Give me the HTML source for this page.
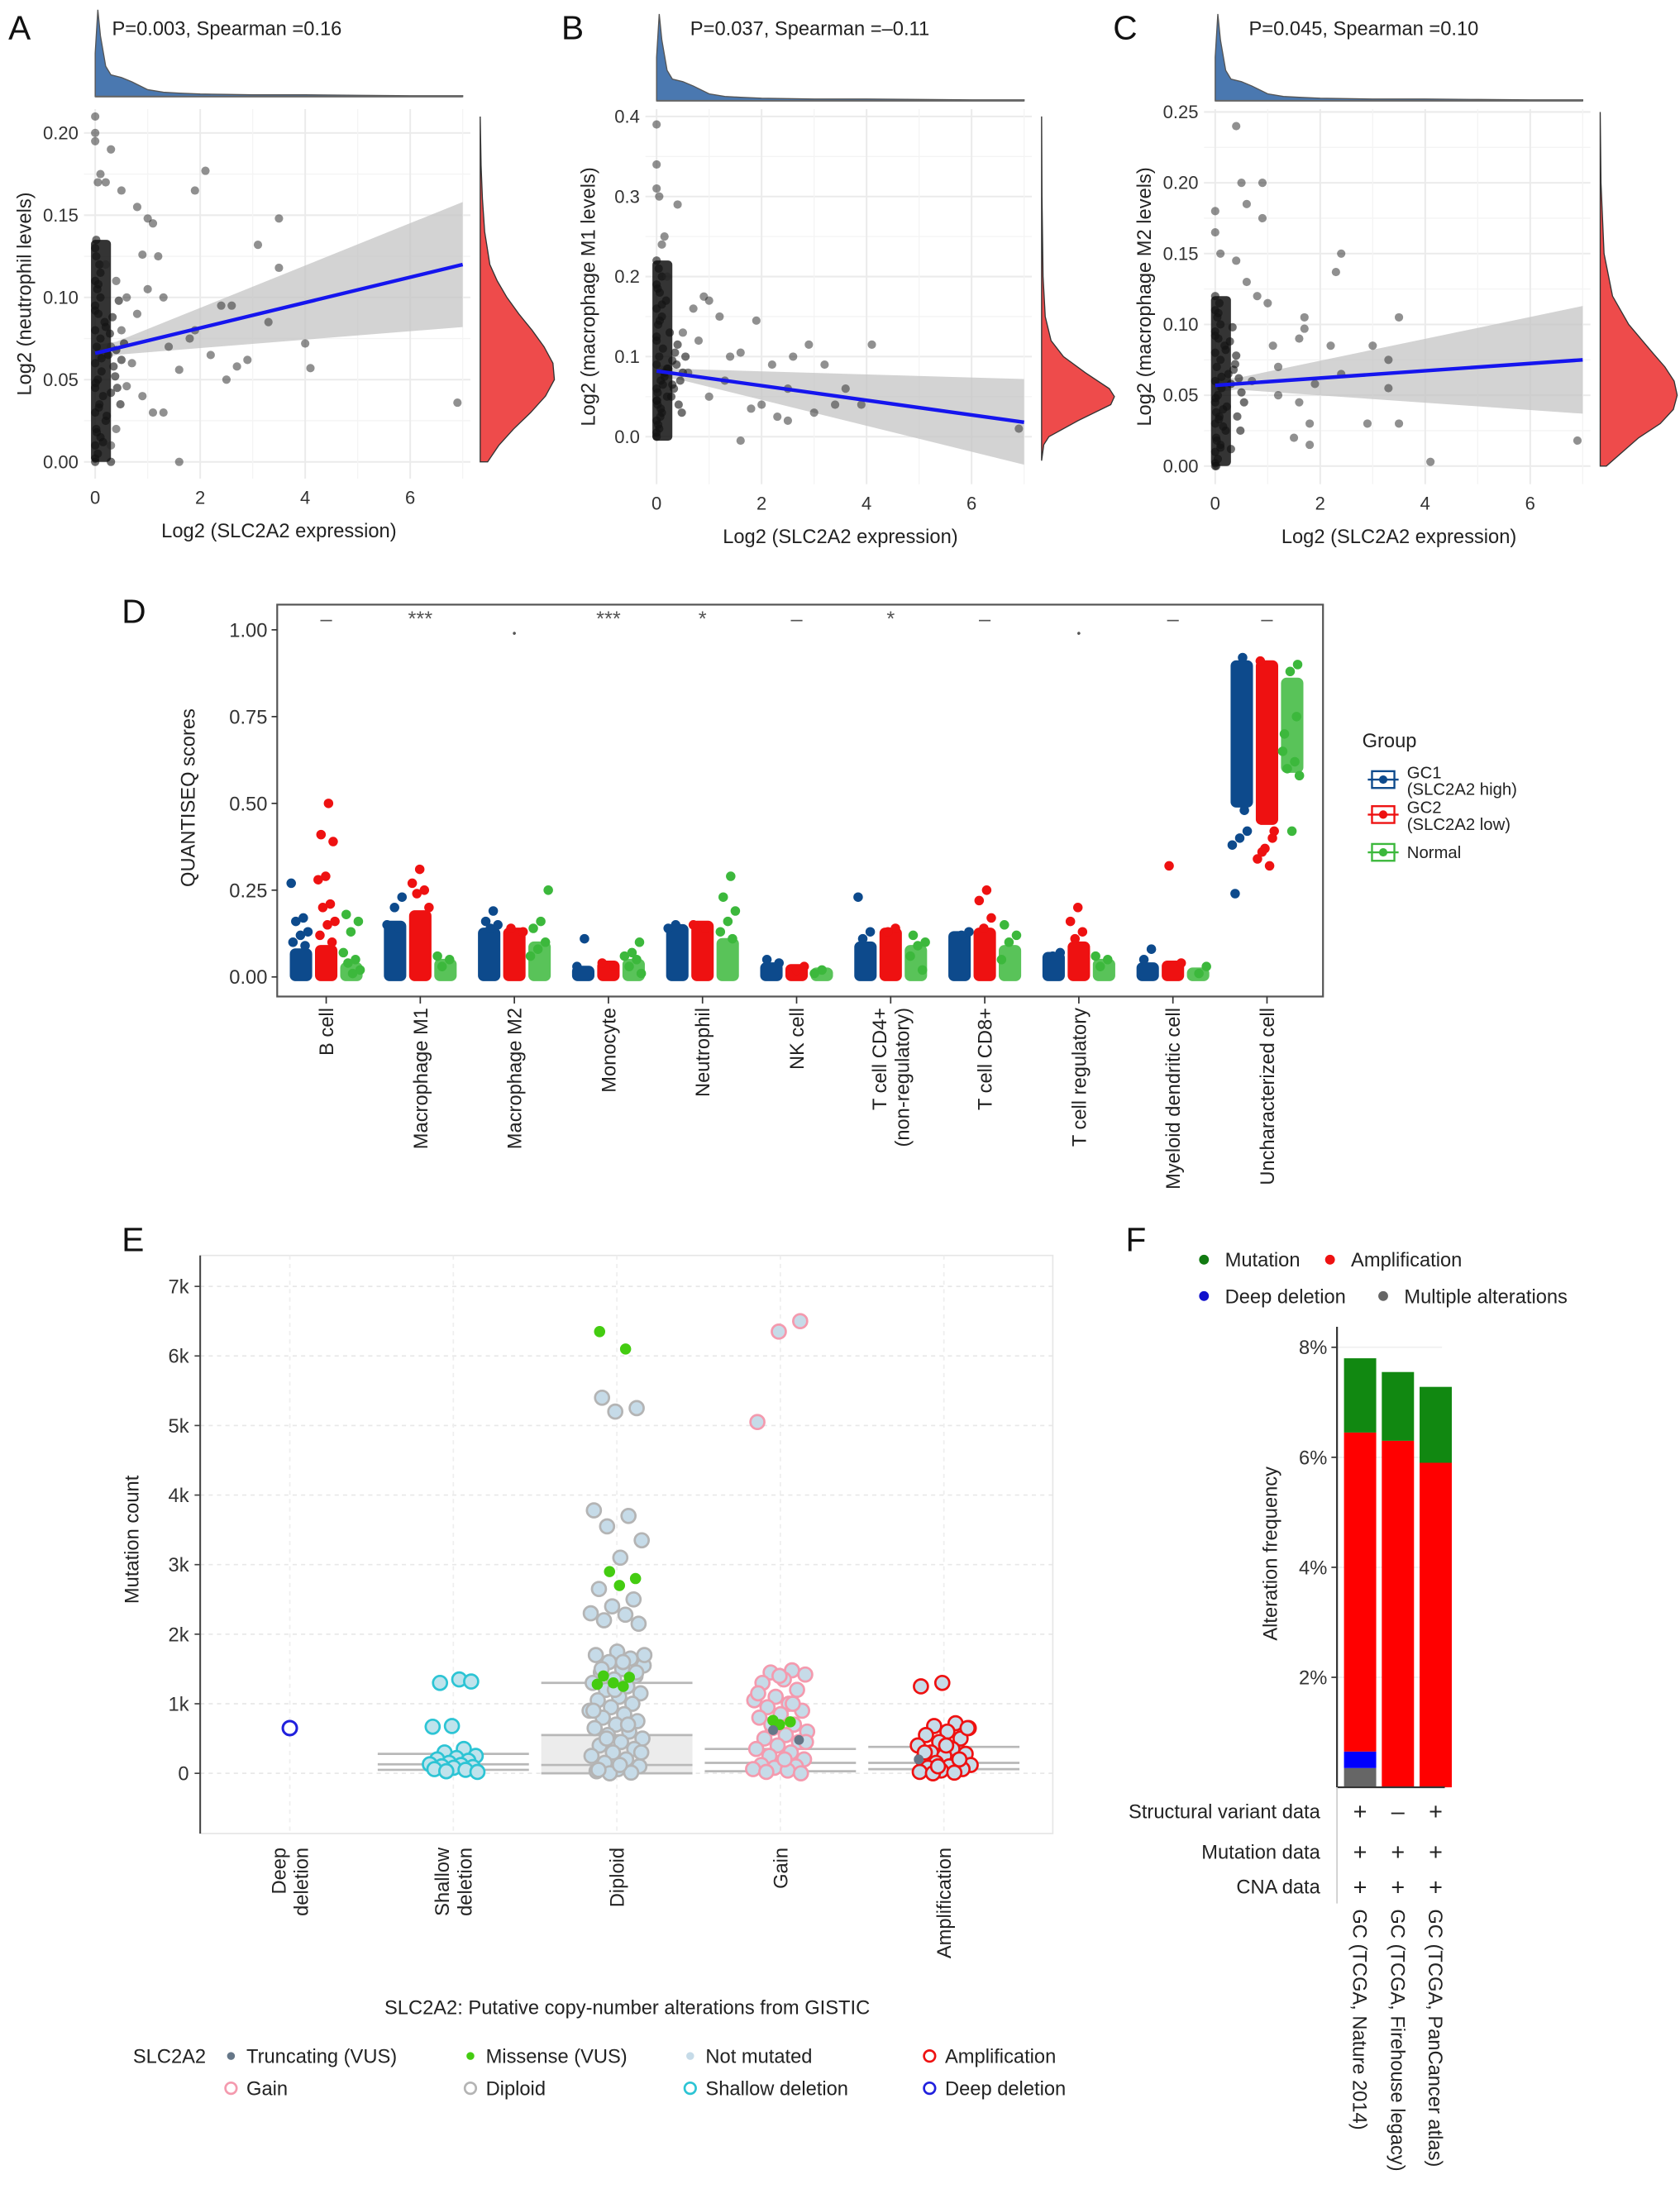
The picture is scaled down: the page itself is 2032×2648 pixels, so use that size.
<!DOCTYPE html>
<html><head><meta charset="utf-8">
<style>
html,body{margin:0;padding:0;background:#fff;}
svg{display:block;font-family:"Liberation Sans",Arial,sans-serif;}
</style></head>
<body>
<svg id="fig" width="2032" height="2648" viewBox="0 0 1200 1564" preserveAspectRatio="none" xmlns="http://www.w3.org/2000/svg">
</svg>
<script>
// ---------- DATA ----------
const stripeX = [0,0.05,0,0.1,0.02,0.2,0,0.08,0.15,0,0.05,0.12,0,0.25,0.03,0.1,0,0.18,0.06,0,0.1,0.04,0,0.08,0,0.02,0.3,0.15,0.22,0.3,0.35,0.4,0.28,0.33,0.45,0.5,0.38,0.55,0.42,0.48,0,0.03,0.07,0.01,0.12,0.2,0,0.06,0.1,0.02];
const stripeYA = [0,0.005,0.01,0.015,0.02,0.025,0.03,0.035,0.04,0.045,0.05,0.055,0.06,0.065,0.07,0.075,0.08,0.085,0.09,0.095,0.1,0.105,0.11,0.12,0.13,0.135,0.0,0.012,0.028,0.042,0.058,0.068,0.078,0.088,0.098,0.062,0.052,0.072,0.045,0.035,0.002,0.018,0.033,0.048,0.063,0.082,0.092,0.108,0.115,0.125];
const stripeYB = [0,0.01,0.02,0.03,0.04,0.05,0.06,0.07,0.08,0.09,0.1,0.11,0.12,0.13,0.14,0.15,0.16,0.17,0.18,0.19,0.2,0.21,0.22,0.035,0.045,0.055,0.065,0.075,0.085,0.095,0.105,0.115,0.05,0.06,0.07,0.08,0.09,0.1,0.04,0.03,0.005,0.015,0.025,0.045,0.065,0.085,0.125,0.145,0.165,0.185];
const stripeYC = [0,0.005,0.01,0.015,0.02,0.025,0.03,0.035,0.04,0.045,0.05,0.055,0.06,0.065,0.07,0.075,0.08,0.085,0.09,0.095,0.1,0.105,0.11,0.115,0.12,0.0,0.012,0.028,0.042,0.058,0.068,0.078,0.088,0.098,0.062,0.052,0.072,0.045,0.035,0.025,0.002,0.018,0.033,0.048,0.063,0.082,0.092,0.108,0.013,0.038];
// dense core of the x≈0 column [low, high] in y units
const coreA = [0,0.135];
const coreB = [-0.005,0.22];
const coreC = [0,0.12];
const outXA = [0,0,0,0.3,0.1,0.05,0.2,0.5,2.1,1.9,0.8,1.0,1.1,3.5,3.1,0.9,1.2,3.5,2.4,2.6,1.0,1.3,1.9,3.3,4.0,4.1,2.9,2.7,2.5,1.6,2.2,0.6,1.1,1.3,0.4,6.9,1.6,0.3,0.7,0.5,0.8,1.4,0.2,0.4,0.6,0.3,0.9,1.8];
const outYA = [0.21,0.2,0.195,0.19,0.175,0.17,0.17,0.165,0.177,0.165,0.155,0.148,0.145,0.148,0.132,0.126,0.125,0.118,0.095,0.095,0.105,0.1,0.08,0.085,0.072,0.057,0.062,0.058,0.05,0.056,0.065,0.046,0.03,0.03,0.02,0.036,0.0,0.01,0.06,0.08,0.09,0.07,0.12,0.11,0.1,0.07,0.04,0.075];
const outXB = [0,0,0,0.05,0.4,0.15,0.1,0.2,0.9,1.0,0.7,1.2,1.9,2.9,4.1,2.6,1.6,3.2,2.2,1.4,0.8,0.5,3.6,2.5,1.8,2.0,2.3,2.5,3.0,3.4,3.9,1.6,6.9,1.3,1.0,0.6];
const outYB = [0.39,0.34,0.31,0.3,0.29,0.25,0.24,0.2,0.175,0.17,0.16,0.15,0.145,0.115,0.115,0.1,0.105,0.09,0.09,0.1,0.12,0.13,0.06,0.06,0.035,0.04,0.025,0.02,0.03,0.04,0.04,-0.005,0.01,0.07,0.05,0.08];
const outXC = [0.4,0.5,0.9,0.6,0.9,0,0,0.1,0.4,2.4,2.3,0.6,0.8,1.0,1.7,1.7,3.5,1.6,2.2,3.0,3.3,2.4,1.9,1.6,3.3,1.2,1.8,2.9,3.5,1.5,1.8,4.1,6.9,1.2,1.1,0.7];
const outYC = [0.24,0.2,0.2,0.185,0.175,0.18,0.165,0.15,0.145,0.15,0.137,0.13,0.12,0.115,0.105,0.097,0.105,0.09,0.085,0.085,0.075,0.065,0.058,0.045,0.055,0.05,0.03,0.03,0.03,0.02,0.015,0.003,0.018,0.07,0.085,0.06];
const fitA = [0.066,0.12], ciA7 = [0.082,0.158], ciA0 = [0.061,0.071];
const fitB = [0.082,0.018], ciB7 = [-0.035,0.072], ciB0 = [0.074,0.09];
const fitC = [0.057,0.075], ciC7 = [0.037,0.113], ciC0 = [0.052,0.062];
const topGrid = [0,0.05,0.1,0.2,0.3,0.5,0.7,1,1.3,1.6,2,2.5,3,4,5,6,7];
const topDens = [0.5,1,0.7,0.35,0.25,0.22,0.17,0.08,0.05,0.04,0.03,0.025,0.02,0.02,0.015,0.01,0.01];
const rGridA = [0,0.01,0.02,0.03,0.04,0.05,0.06,0.07,0.08,0.09,0.1,0.11,0.12,0.14,0.16,0.18,0.21];
const rDensA = [0.1,0.25,0.45,0.68,0.88,1,0.98,0.86,0.7,0.52,0.36,0.23,0.13,0.06,0.03,0.012,0];
const rGridB = [-0.03,-0.01,0,0.02,0.04,0.05,0.06,0.08,0.1,0.12,0.15,0.2,0.3,0.4];
const rDensB = [0,0.03,0.1,0.5,0.95,1,0.93,0.6,0.3,0.13,0.05,0.02,0.005,0];
const rGridC = [0,0.02,0.03,0.04,0.05,0.06,0.07,0.08,0.1,0.12,0.15,0.2,0.25];
const rDensC = [0.08,0.5,0.78,0.95,1,0.96,0.84,0.68,0.37,0.16,0.05,0.01,0];

// Panel D
const dCats = ["B cell","Macrophage M1","Macrophage M2","Monocyte","Neutrophil","NK cell","T cell CD4+|(non-regulatory)","T cell CD8+","T cell regulatory","Myeloid dendritic cell","Uncharacterized cell"];
const dSig = ["–","***","·","***","*","–","*","–","·","–","–"];
const dBulkLo = [[0,0,0,0,0,0,0,0,0,0,0.5],[0,0,0,0,0,0,0,0,0,0,0.45],[0,0,0,0,0,0,0,0,0,0,0.6]];
const dBulkBlue = [0.07,0.15,0.13,0.02,0.14,0.03,0.09,0.12,0.06,0.03,0.9];
const dBulkRed = [0.08,0.18,0.13,0.035,0.15,0.025,0.13,0.13,0.09,0.035,0.9];
const dBulkGreen = [0.03,0.04,0.09,0.04,0.1,0.015,0.08,0.08,0.04,0.015,0.85];
const dBlue = [[0.27,0.17,0.16,0.13,0.12,0.1,0.09],[0.23,0.2,0.15,0.14],[0.19,0.16,0.15,0.14],[0.11,0.03],[0.15,0.14],[0.05,0.04],[0.23,0.13,0.11],[0.13,0.12],[0.07,0.06],[0.08,0.05],[0.92,0.24,0.42,0.4,0.38,0.48]];
const dRed = [[0.5,0.41,0.39,0.29,0.28,0.21,0.2,0.16,0.15,0.12,0.1],[0.31,0.27,0.25,0.24,0.2],[0.14,0.13],[0.04,0.03],[0.15,0.14],[0.03,0.02],[0.14,0.13],[0.25,0.22,0.17,0.14],[0.2,0.16,0.13,0.11],[0.32,0.04],[0.91,0.4,0.37,0.34,0.32,0.36,0.42]];
const dGreen = [[0.18,0.16,0.13,0.07,0.05,0.04,0.02,0.01],[0.06,0.05,0.03],[0.25,0.16,0.14,0.1,0.08,0.06],[0.1,0.07,0.06,0.05,0.03,0.01],[0.29,0.23,0.19,0.16,0.13,0.11],[0.02,0.01],[0.12,0.1,0.09,0.06,0.02],[0.15,0.12,0.1,0.05],[0.06,0.05,0.03],[0.03,0.01],[0.9,0.88,0.65,0.62,0.6,0.58,0.42,0.7,0.75]];

// Panel E
const eCats = ["Deep|deletion","Shallow|deletion","Diploid","Gain","Amplification"];
const eDeep = [650];
const eShallow = [1350,1300,1320,680,670,350,300,250,220,200,180,150,130,120,100,90,80,60,50,30,20];
const eDiploid = [5400,5250,5200,3780,3700,3550,3350,3100,2650,2500,2400,2300,2280,2200,2150,1750,1700,1650,1600,1550,1500,1450,1400,1350,1300,1250,1200,1150,1100,1050,1000,950,900,850,800,750,700,650,600,550,500,450,400,350,300,250,200,150,100,60,30,10,0,1700,1600,1500,1450,1200,900,700,500,300,120,50];
const eDiploidMis = [6350,6100,2900,2800,2700,1400,1380,1300,1280,1250];
const eGain = [6500,6350,5050,1480,1450,1420,1350,1300,1200,1100,1050,1000,950,900,850,800,700,650,600,550,500,450,400,350,300,250,200,150,120,100,80,60,40,20,0,1400,1150,1000,700,450,200];
const eGainMis = [760,740,700];
const eGainTrunc = [620,480];
const eAmp = [1300,1250,720,680,650,600,550,500,450,400,350,300,280,250,200,180,150,120,100,80,60,40,20,10,0,650,400,300,200,100];
const eAmpTrunc = [200];
const eBoxShallow = [50,130,280];
const eBoxDiploid = [0,120,550,1300];
const eBoxGain = [30,150,350];
const eBoxAmp = [60,150,380];
const eTicks = [0,1000,2000,3000,4000,5000,6000,7000];
const eTickLabels = ["0","1k","2k","3k","4k","5k","6k","7k"];

// Panel F
const fStudies = ["GC (TCGA, Nature 2014)","GC (TCGA, Firehouse legacy)","GC (TCGA, PanCancer atlas)"];
const fMulti = [0.35,0,0];
const fDeep = [0.3,0,0];
const fAmp = [5.8,6.3,5.9];
const fMut = [1.35,1.25,1.38];
const fSV = ["+","–","+"];
const fMutData = ["+","+","+"];
const fCNA = ["+","+","+"];

// ---------- HELPERS ----------
const NS = "http://www.w3.org/2000/svg";
const svg = document.getElementById('fig');
function mk(tag, attrs, parent, text){
  const e = document.createElementNS(NS, tag);
  for (const k in attrs) e.setAttribute(k, attrs[k]);
  if (text !== undefined) e.textContent = text;
  (parent || svg).appendChild(e);
  return e;
}
function grp(name){ const g = mk('g', {});   return g; }
function txt(parent, x, y, s, size, anchor, extra){
  const a = Object.assign({x:x, y:y, 'font-size':size, 'text-anchor':anchor||'start', fill:'#222'}, extra||{});
  return mk('text', a, parent, s);
}
function jit(i){ return ((i*0.6180339887)%1) - 0.5; }

// ---------- SCATTER PANELS A,B,C ----------
function scatterPanel(cfg){
  const g = grp(cfg.name);
  const sx = v => cfg.x0 + v*cfg.pxPerX;
  const sy = v => cfg.y0 - v*cfg.pxPerY;
  const L = txt(g, cfg.labX, 28, cfg.label, 24, 'start', {fill:'#111'});
   
  const S = txt(g, cfg.statX, 25, cfg.stat, 14, 'start', {fill:'#222'});
   
  const pg = mk('g', {}, g);  
  for (let k=0;k<cfg.yTicks.length;k++){
    mk('line',{x1:cfg.left,x2:cfg.right,y1:sy(cfg.yTicks[k]),y2:sy(cfg.yTicks[k]),stroke:'#ebebeb','stroke-width':1.2},pg);
    if(k<cfg.yTicks.length-1){const m=(cfg.yTicks[k]+cfg.yTicks[k+1])/2;mk('line',{x1:cfg.left,x2:cfg.right,y1:sy(m),y2:sy(m),stroke:'#f4f4f4','stroke-width':0.8},pg);}
  }
  [0,1,2,3,4,5,6,7].forEach(v=>{ mk('line',{x1:sx(v),x2:sx(v),y1:cfg.top,y2:cfg.bottom,stroke: v%2==0?'#ebebeb':'#f4f4f4','stroke-width':v%2==0?1.2:0.8},pg); });
  const tg = mk('g',{},g);  
  let d = `M${sx(0)},${cfg.topBase}`;
  topGrid.forEach((v,i)=>{ d += ` L${sx(v)},${cfg.topBase - topDens[i]*cfg.topH}`; });
  d += ` L${sx(7)},${cfg.topBase} Z`;
  mk('path',{d:d,fill:'#4a78b0',stroke:'#555','stroke-width':0.8},tg);
  mk('line',{x1:sx(0),x2:sx(7),y1:cfg.topBase,y2:cfg.topBase,stroke:'#666','stroke-width':1.2},tg);
  const rg = mk('g',{},g);  
  let d2 = `M${cfg.rBase},${sy(cfg.rGrid[0])}`;
  cfg.rGrid.forEach((v,i)=>{ d2 += ` L${cfg.rBase + cfg.rDens[i]*cfg.rW},${sy(v)}`; });
  d2 += ` L${cfg.rBase},${sy(cfg.rGrid[cfg.rGrid.length-1])} Z`;
  mk('path',{d:d2,fill:'#ee4b4b',stroke:'#333','stroke-width':0.8},rg);
  const cg = mk('g',{},g);  
  const xm = 0.4, ym = cfg.fit[0] + (cfg.fit[1]-cfg.fit[0])*xm/7;
  const pts = [[0,cfg.ci0[1]],[xm,ym+(cfg.ci0[1]-cfg.ci0[0])*0.4],[7,cfg.ci7[1]],[7,cfg.ci7[0]],[xm,ym-(cfg.ci0[1]-cfg.ci0[0])*0.4],[0,cfg.ci0[0]]];
  mk('polygon',{points:pts.map(p=>sx(p[0])+','+sy(p[1])).join(' '),fill:'#c4c4c4','fill-opacity':0.75},cg);
  const ptg = mk('g',{},g);  
  mk('rect',{x:sx(0)-3,y:sy(cfg.core[1]),width:sx(0.22)-sx(0)+6,height:sy(cfg.core[0])-sy(cfg.core[1]),rx:3,fill:'#111','fill-opacity':0.85},ptg);
  cfg.stripeY.forEach((v,i)=>{ mk('circle',{cx:sx(stripeX[i%stripeX.length]),cy:sy(v),r:3,fill:'#111','fill-opacity':0.6},ptg); });
  cfg.outX.forEach((v,i)=>{ mk('circle',{cx:sx(v),cy:sy(cfg.outY[i]),r:3,fill:'#222','fill-opacity':0.5},ptg); });
  const fl = mk('line',{x1:sx(0),y1:sy(cfg.fit[0]),x2:sx(7),y2:sy(cfg.fit[1]),stroke:'#1515ee','stroke-width':2.6},g);
   
  const ya = mk('g',{},g);  
  cfg.yTicks.forEach((v,k)=>{ txt(ya, cfg.left-4, sy(v)+4.5, cfg.yLabels[k], 13, 'end', {fill:'#333'}); });
  const xa = mk('g',{},g);  
  [0,2,4,6].forEach(v=>{ txt(xa, sx(v), cfg.bottom+18, String(v), 13, 'middle', {fill:'#333'}); });
  const xt = txt(g, (sx(0)+sx(7))/2, cfg.bottom+42, 'Log2 (SLC2A2 expression)', 14, 'middle', {fill:'#222'});
   
  const yt = txt(g, 0, 0, cfg.yTitle, 14, 'middle', {fill:'#222', transform:`translate(${cfg.yTitleX},${(cfg.top+cfg.bottom)/2}) rotate(-90)`});
   
}

scatterPanel({name:'panel-a', label:'A', labX:6, stat:'P=0.003, Spearman =0.16', statX:80,
  x0:68, pxPerX:37.5, y0:330, pxPerY:1175, left:60, right:336, top:78, bottom:342,
  topBase:69, topH:62, rBase:343, rW:53, rGrid:rGridA, rDens:rDensA,
  yTicks:[0,0.05,0.1,0.15,0.2], yLabels:["0.00","0.05","0.10","0.15","0.20"],
  stripeY:stripeYA, core:coreA, outX:outXA, outY:outYA, fit:fitA, ci7:ciA7, ci0:ciA0,
  yTitle:'Log2 (neutrophil levels)', yTitleX:22});
scatterPanel({name:'panel-b', label:'B', labX:401, stat:'P=0.037, Spearman =–0.11', statX:493,
  x0:469, pxPerX:37.5, y0:312, pxPerY:572, left:461, right:737, top:78, bottom:346,
  topBase:72, topH:62, rBase:744, rW:52, rGrid:rGridB, rDens:rDensB,
  yTicks:[0,0.1,0.2,0.3,0.4], yLabels:["0.0","0.1","0.2","0.3","0.4"],
  stripeY:stripeYB, core:coreB, outX:outXB, outY:outYB, fit:fitB, ci7:ciB7, ci0:ciB0,
  yTitle:'Log2 (macrophage M1 levels)', yTitleX:425});
scatterPanel({name:'panel-c', label:'C', labX:795, stat:'P=0.045, Spearman =0.10', statX:892,
  x0:868, pxPerX:37.5, y0:333, pxPerY:1012, left:860, right:1136, top:78, bottom:346,
  topBase:72, topH:62, rBase:1143, rW:55, rGrid:rGridC, rDens:rDensC,
  yTicks:[0,0.05,0.1,0.15,0.2,0.25], yLabels:["0.00","0.05","0.10","0.15","0.20","0.25"],
  stripeY:stripeYC, core:coreC, outX:outXC, outY:outYC, fit:fitC, ci7:ciC7, ci0:ciC0,
  yTitle:'Log2 (macrophage M2 levels)', yTitleX:822});

// ---------- PANEL D ----------
(function(){
  const g = grp('panel-d');
  const L = txt(g, 87, 445, 'D', 24, 'start', {fill:'#111'});  
  const left=198,right=945,top=432,bottom=712;
  const sy = v => 698 - v*248;
  const cx = i => 233 + i*67.2;
  const fr = mk('rect',{x:left,y:top,width:right-left,height:bottom-top,fill:'none',stroke:'#555','stroke-width':1.3},g);
   
  const ya = mk('g',{},g);  
  [0,0.25,0.5,0.75,1].forEach(v=>{ mk('line',{x1:left-4,x2:left,y1:sy(v),y2:sy(v),stroke:'#333'},ya); txt(ya,left-7,sy(v)+5,v.toFixed(2),14,'end',{fill:'#333'}); });
  const yt = txt(g,0,0,'QUANTISEQ scores',14,'middle',{transform:'translate(139,570) rotate(-90)'});  
  const cols = ['#0d4a8c','#ee1111','#3cb83c'];
  const offs = [-18,0,18];
  const bulks = [dBulkBlue,dBulkRed,dBulkGreen];
  const vals = [dBlue,dRed,dGreen];
  dCats.forEach((c,i)=>{
    const cg = mk('g',{},g);  
    for(let s=0;s<3;s++){
      const x = cx(i)+offs[s];
      const lo = dBulkLo[s][i], hi = bulks[s][i];
      mk('rect',{x:x-8,y:sy(hi)-3,width:16,height:sy(lo)-sy(hi)+6,rx:4,fill:cols[s],'fill-opacity': s==2?0.85:1},cg);
      vals[s][i].forEach((v,k)=>{ mk('circle',{cx:x+jit(k+i*3+s)*14,cy:sy(v),r:3.4,fill:cols[s]},cg); });
    }
    mk('line',{x1:cx(i),x2:cx(i),y1:bottom,y2:bottom+5,stroke:'#333'},cg);
    const parts = c.split('|');
    if(parts.length==1){ txt(cg,0,0,c,14,'end',{transform:`translate(${cx(i)+5},${bottom+8}) rotate(-90)`}); }
    else { txt(cg,0,0,parts[0],14,'end',{transform:`translate(${cx(i)-3},${bottom+8}) rotate(-90)`}); txt(cg,0,0,parts[1],14,'end',{transform:`translate(${cx(i)+13},${bottom+8}) rotate(-90)`}); }
    const sg = dSig[i];
    const st = txt(cg,cx(i), sg=='·'?455:447, sg=='·'?'•':sg, sg=='·'?8:15,'middle',{fill:'#555'});
     
  });
  const lg = mk('g',{},g);  
  txt(lg,973,534,'Group',14,'start',{fill:'#222'});
  const entries = [['GC1','(SLC2A2 high)',cols[0],557],['GC2','(SLC2A2 low)',cols[1],582],['Normal','',cols[2],609]];
  entries.forEach(e=>{
    const eg = mk('g',{},lg);  
    const yy = e[3];
    mk('line',{x1:977,x2:999,y1:yy,y2:yy,stroke:e[2],'stroke-width':1.4},eg);
    mk('rect',{x:980,y:yy-6,width:16,height:12,fill:'#fff',stroke:e[2],'stroke-width':1.4},eg);
    mk('line',{x1:980,x2:996,y1:yy,y2:yy,stroke:e[2],'stroke-width':1.4},eg);
    mk('circle',{cx:988,cy:yy,r:3,fill:e[2]},eg);
    if(e[1]){ txt(eg,1005,yy-1,e[0],12,'start'); txt(eg,1005,yy+11,e[1],12,'start'); }
    else txt(eg,1005,yy+4,e[0],12,'start');
  });
})();

// ---------- PANEL E ----------
(function(){
  const g = grp('panel-e');
  const L = txt(g, 87, 894, 'E', 24, 'start', {fill:'#111'});  
  const left=143,right=752,top=897,bottom=1310;
  const sy = v => 1267 - v*0.0497;
  const cx = i => 207 + i*116.8;
  mk('rect',{x:left,y:top,width:right-left,height:bottom-top,fill:'none',stroke:'#e6e6e6','stroke-width':1},g);
  const gg = mk('g',{},g);  
  eTicks.forEach(v=>{ mk('line',{x1:left,x2:right,y1:sy(v),y2:sy(v),stroke:'#e8e8e8','stroke-dasharray':'3,3'},gg); });
  eCats.forEach((c,i)=>{ mk('line',{x1:cx(i),x2:cx(i),y1:top,y2:bottom,stroke:'#eeeeee','stroke-dasharray':'3,3'},gg); });
  const ya = mk('g',{},g);  
  mk('line',{x1:left,x2:left,y1:top,y2:bottom,stroke:'#444','stroke-width':1.2},ya);
  eTicks.forEach((v,k)=>{ mk('line',{x1:left-4,x2:left,y1:sy(v),y2:sy(v),stroke:'#444'},ya); txt(ya,left-8,sy(v)+5,eTickLabels[k],14,'end',{fill:'#333'}); });
  const yt = txt(g,0,0,'Mutation count',14,'middle',{transform:'translate(99,1100) rotate(-90)'});  
  const bg = mk('g',{},g);  
  const hw = 54;
  mk('rect',{x:cx(2)-hw,y:sy(eBoxDiploid[2]),width:hw*2,height:sy(eBoxDiploid[0])-sy(eBoxDiploid[2]),fill:'#ececec'},bg);
  const boxL = (i,arr)=>arr.forEach(v=>mk('line',{x1:cx(i)-hw,x2:cx(i)+hw,y1:sy(v),y2:sy(v),stroke:'#b8b8b8','stroke-width':1.6},bg));
  boxL(1,eBoxShallow); boxL(2,eBoxDiploid); boxL(3,eBoxGain); boxL(4,eBoxAmp);
  const pg = mk('g',{},g);  
  const dot = (i,arr,stroke,fill,w,spread)=>arr.forEach((v,k)=>mk('circle',{cx:cx(i)+jit(k+i)*spread,cy:sy(v),r:5,fill:fill,stroke:stroke,'stroke-width':w},pg));
  dot(0,eDeep,'#2020dd','#fff',1.8,0);
  dot(1,eShallow,'#2cc4d4','#bfe3ec',1.6,36);
  dot(2,eDiploid,'#b4b4b4','#c6dbe8',1.6,40);
  dot(3,eGain,'#f49aae','#c6dbe8',1.6,40);
  dot(4,eAmp,'#ee1111','#c6dbe8',1.6,40);
  eDiploidMis.forEach((v,k)=>mk('circle',{cx:cx(2)+jit(k+5)*30,cy:sy(v),r:4,fill:'#44cc11'},pg));
  eGainMis.forEach((v,k)=>mk('circle',{cx:cx(3)+jit(k+2)*20,cy:sy(v),r:4,fill:'#44cc11'},pg));
  eGainTrunc.forEach((v,k)=>mk('circle',{cx:cx(3)+jit(k+7)*30,cy:sy(v),r:3.5,fill:'#667788'},pg));
  eAmpTrunc.forEach((v,k)=>mk('circle',{cx:cx(4)-18,cy:sy(v),r:3.5,fill:'#667788'},pg));
  const xa = mk('g',{},g);  
  eCats.forEach((c,i)=>{
    const p = c.split('|');
    if(p.length==1) txt(xa,0,0,c,14,'end',{transform:`translate(${cx(i)+5},1320) rotate(-90)`});
    else { txt(xa,0,0,p[0],14,'end',{transform:`translate(${cx(i)-3},1320) rotate(-90)`}); txt(xa,0,0,p[1],14,'end',{transform:`translate(${cx(i)+13},1320) rotate(-90)`}); }
  });
  const xt = txt(g,448,1439,'SLC2A2: Putative copy-number alterations from GISTIC',14,'middle');  
  const lg = mk('g',{},g);  
  txt(lg,95,1474,'SLC2A2',14,'start');
  const items = [
    [165,1469,'Truncating (VUS)','#667788','#667788',0],[336,1469,'Missense (VUS)','#44cc11','#44cc11',0],[493,1469,'Not mutated','#c6dbe8','#c6dbe8',0],[664,1469,'Amplification','#fff','#ee1111',1.6],
    [165,1492,'Gain','#fff','#f49aae',1.6],[336,1492,'Diploid','#fff','#b4b4b4',1.6],[493,1492,'Shallow deletion','#fff','#2cc4d4',1.6],[664,1492,'Deep deletion','#fff','#2020dd',1.6]];
  items.forEach(it=>{
    const eg = mk('g',{},lg);  
    mk('circle',{cx:it[0],cy:it[1],r:it[5]?4:2.8,fill:it[3],stroke:it[4],'stroke-width':it[5]},eg);
    txt(eg,it[0]+11,it[1]+5,it[2],14,'start');
  });
})();

// ---------- PANEL F ----------
(function(){
  const g = grp('panel-f');
  const L = txt(g, 804, 894, 'F', 24, 'start', {fill:'#111'});  
  const lg = mk('g',{},g);  
  [[860,900,'#117a11','Mutation'],[950,900,'#ee1111','Amplification'],[860,926,'#1111cc','Deep deletion'],[988,926,'#666','Multiple alterations']].forEach(e=>{
    const eg = mk('g',{},lg);  
    mk('circle',{cx:e[0],cy:e[1],r:3.5,fill:e[2]},eg); txt(eg,e[0]+15,e[1]+5,e[3],14,'start');
  });
  const sy = v => 1277 - v*39.3;
  const bx = i => 960 + i*27;
  const bw = 23;
  [2,4,6,8].forEach(v=>mk('line',{x1:955,x2:1030,y1:sy(v),y2:sy(v),stroke:'#f0f0f0'},g));
  const bars = mk('g',{},g);  
  fStudies.forEach((s,i)=>{
    let base = 0;
    [[fMulti,'#666666'],[fDeep,'#0000ff'],[fAmp,'#ff0000'],[fMut,'#118811']].forEach(seg=>{
      const v = seg[0][i]; if(v<=0) return;
      mk('rect',{x:bx(i),y:sy(base+v),width:bw,height:sy(base)-sy(base+v),fill:seg[1]},bars);
      base += v;
    });
  });
  const ax = mk('g',{},g);  
  mk('line',{x1:955,x2:955,y1:948,y2:1277,stroke:'#333','stroke-width':1.3},ax);
  mk('line',{x1:955,x2:1032,y1:1277,y2:1277,stroke:'#333','stroke-width':1.3},ax);
  mk('line',{x1:955,x2:955,y1:1277,y2:1360,stroke:'#ccc','stroke-width':1},ax);
  [2,4,6,8].forEach(v=>{ mk('line',{x1:951,x2:955,y1:sy(v),y2:sy(v),stroke:'#333'},ax); txt(ax,948,sy(v)+5,v+'%',14,'end',{fill:'#333'}); });
  const yt = txt(g,0,0,'Alteration frequency',14,'middle',{transform:'translate(912,1110) rotate(-90)'});  
  const tb = mk('g',{},g);  
  [['Structural variant data',1299,fSV],['Mutation data',1328,fMutData],['CNA data',1353,fCNA]].forEach(r=>{
    txt(tb,943,r[1],r[0],14,'end');
    r[2].forEach((s,i)=>txt(tb,bx(i)+bw/2,r[1]+1,s,17,'middle'));
  });
  fStudies.forEach((s,i)=>{
    const t = txt(g,0,0,s,14,'start',{transform:`translate(${bx(i)+bw/2-5},1364) rotate(90)`});
     
  });
})();
</script>
</body></html>
